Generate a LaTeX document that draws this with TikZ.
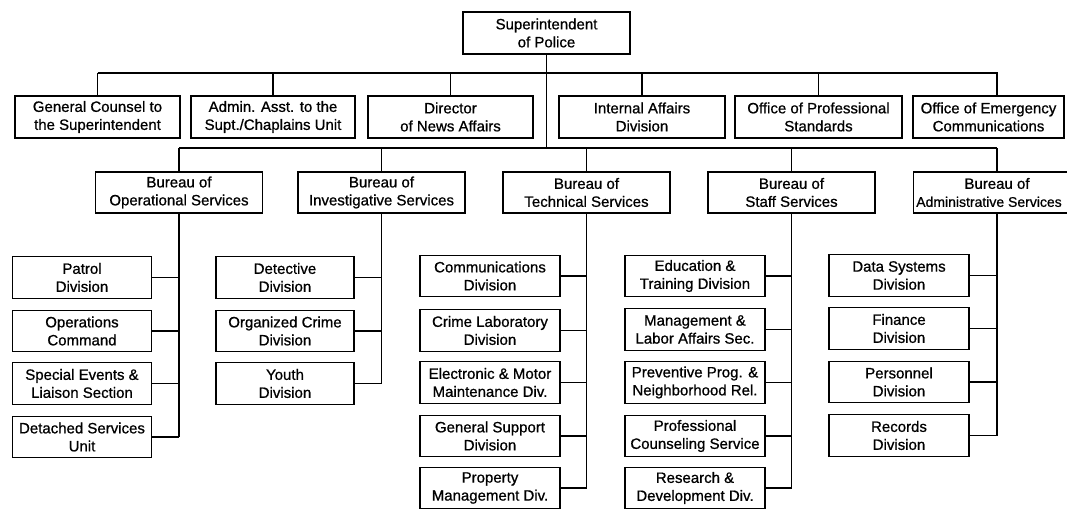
\documentclass[tikz,border=0pt]{standalone}
\usepackage{fontspec}
\setmainfont[FakeBold=0.8]{Liberation Sans}
\begin{document}
\begin{tikzpicture}[x=1pt,y=-1pt,
  bx/.style={draw, line width=1.4pt, inner sep=0pt, align=center,
             font=\fontsize{15}{18}\selectfont},
  topbox/.style={bx, minimum width=167pt, minimum height=42pt},
  rowbox/.style={bx, minimum height=42pt},
  burbox/.style={bx, minimum width=167pt, minimum height=41pt},
  kid/.style={bx, minimum width=140pt, minimum height=41.5pt},
  ln/.style={line width=1.4pt}]
\useasboundingbox (0,0) rectangle (1067,510);

% top
\node[topbox] (sup) at (546.5,33) {Superintendent\\of Police};

% first row
\node[rowbox, minimum width=165pt] (gc)  at (97.5,117)  {General Counsel to\\the Superintendent};
\node[rowbox, minimum width=164pt] (aa)  at (273,117)   {Admin. Asst. to the\\Supt./Chaplains Unit};
\node[rowbox, minimum width=165pt] (dn)  at (450.5,117) {Director\\of News Affairs};
\node[rowbox, minimum width=166pt] (ia)  at (642,117)   {Internal Affairs\\Division};
\node[rowbox, minimum width=167pt] (ops) at (818.5,117) {Office of Professional\\Standards};
\node[rowbox, minimum width=151pt] (oec) at (988.5,117) {Office of Emergency\\Communications};

% bureaus
\node[burbox] (bo) at (179,192.5)   {Bureau of\\Operational Services};
\node[burbox] (bi) at (381.5,192.5) {Bureau of\\Investigative Services};
\node[burbox] (bt) at (586.5,192.5) {Bureau of\\Technical Services};
\node[burbox] (bs) at (791.5,192.5) {Bureau of\\Staff Services};
\node[burbox] (ba) at (997,192.5)   {Bureau of\\{\fontsize{14}{18}\selectfont\hspace*{-16pt}Administrative Services}};

% operational
\node[kid, minimum width=139pt] (o1) at (82,277.5) {Patrol\\Division};
\node[kid, minimum width=139pt] (o2) at (82,331)   {Operations\\Command};
\node[kid, minimum width=139pt] (o3) at (82,383.5) {Special Events \&\\Liaison Section};
\node[kid, minimum width=139pt] (o4) at (82,437)   {Detached Services\\Unit};

% investigative
\node[kid, minimum width=138pt] (v1) at (285,277.5) {Detective\\Division};
\node[kid, minimum width=138pt] (v2) at (285,331)   {Organized Crime\\Division};
\node[kid, minimum width=138pt] (v3) at (285,383.5) {Youth\\Division};

% technical
\node[kid] (t1) at (490,276)   {Communications\\Division};
\node[kid] (t2) at (490,330.5) {Crime Laboratory\\Division};
\node[kid] (t3) at (490,382.5) {Electronic \& Motor\\Maintenance Div.};
\node[kid] (t4) at (490,436)   {General Support\\Division};
\node[kid] (t5) at (490,488)   {Property\\Management Div.};

% staff
\node[kid] (s1) at (695,276)   {Education \&\\Training Division};
\node[kid] (s2) at (695,329.5) {Management \&\\Labor Affairs Sec.};
\node[kid] (s3) at (695,382.5) {Preventive Prog. \&\\Neighborhood Rel.};
\node[kid] (s4) at (695,436)   {Professional\\Counseling Service};
\node[kid] (s5) at (695,488)   {Research \&\\Development Div.};

% administrative
\node[kid] (a1) at (899,275.5) {Data Systems\\Division};
\node[kid] (a2) at (899,328.5) {Finance\\Division};
\node[kid] (a3) at (899,382)   {Personnel\\Division};
\node[kid] (a4) at (899,435.5) {Records\\Division};

% connectors
\coordinate (r1) at (0,73);
\coordinate (r2) at (0,148);
\coordinate (oecx) at (997,0);

\draw[ln] (sup.south) -- (sup.south |- r2);
\draw[ln] (gc.north |- r1) -- (oecx |- r1) -- (oecx |- oec.north);
\foreach \n in {gc,aa,dn,ia,ops} \draw[ln] (\n.north) -- (\n.north |- r1);

\draw[ln] (bo.north |- r2) -- (ba.north |- r2);
\foreach \n in {bo,bi,bt,bs,ba} \draw[ln] (\n.north) -- (\n.north |- r2);

\draw[ln] (bo.south) -- (bo.south |- o4.east);
\foreach \n in {o1,o2,o3,o4} \draw[ln] (\n.east) -- (\n.east -| bo.south);

\draw[ln] (bi.south) -- (bi.south |- v3.east);
\foreach \n in {v1,v2,v3} \draw[ln] (\n.east) -- (\n.east -| bi.south);

\draw[ln] (bt.south) -- (bt.south |- t5.east);
\foreach \n in {t1,t2,t3,t4,t5} \draw[ln] (\n.east) -- (\n.east -| bt.south);

\draw[ln] (bs.south) -- (bs.south |- s5.east);
\foreach \n in {s1,s2,s3,s4,s5} \draw[ln] (\n.east) -- (\n.east -| bs.south);

\draw[ln] (ba.south) -- (ba.south |- a4.east);
\foreach \n in {a1,a2,a3,a4} \draw[ln] (\n.east) -- (\n.east -| ba.south);
\end{tikzpicture}
\end{document}
